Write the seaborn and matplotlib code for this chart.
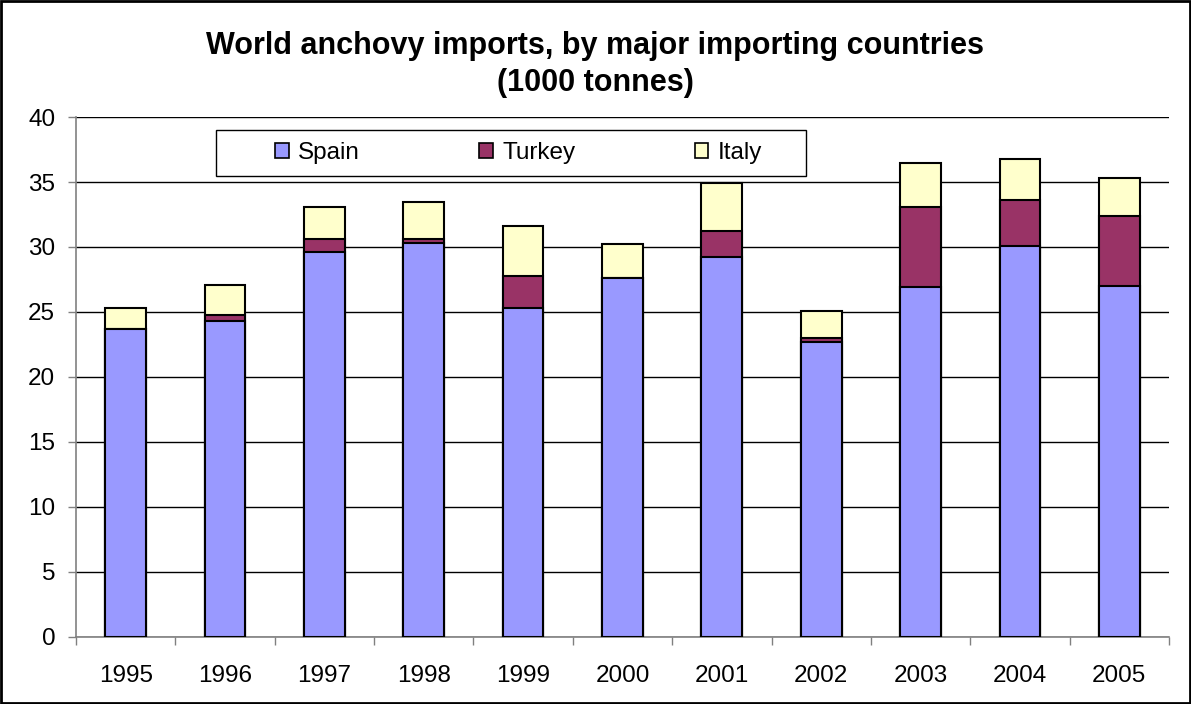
import numpy as np
import pandas as pd
import seaborn as sns
import matplotlib.pyplot as plt
from matplotlib.patches import Rectangle, Patch
from matplotlib.ticker import MultipleLocator, FixedLocator

years = ["1995", "1996", "1997", "1998", "1999", "2000", "2001", "2002", "2003", "2004", "2005"]
spain = [23.7, 24.3, 29.6, 30.3, 25.3, 27.65, 29.2, 22.7, 26.9, 30.05, 27.0]
turkey = [0.0, 0.5, 1.05, 0.3, 2.5, 0.0, 2.05, 0.3, 6.15, 3.55, 5.4]
italy = [1.6, 2.3, 2.45, 2.9, 3.8, 2.55, 3.65, 2.1, 3.45, 3.2, 2.9]

colors = {"Spain": "#9999FF", "Turkey": "#993366", "Italy": "#FFFFCC"}

sns.set_theme(style="white")
plt.rcParams['font.family'] = ['Liberation Sans', 'DejaVu Sans']
plt.rcParams['text.color'] = 'black'

df = pd.DataFrame({"year": years, "Spain": spain, "Turkey": turkey, "Italy": italy})
df["top_turkey"] = df["Spain"] + df["Turkey"]
df["top_italy"] = df["top_turkey"] + df["Italy"]

fig = plt.figure(figsize=(11.91, 7.04), dpi=100)
ax = fig.add_axes([0.0638, 0.0952, 0.9177, 0.7386])

# stacked bars drawn back to front
for col, name in [("top_italy", "Italy"), ("top_turkey", "Turkey"), ("Spain", "Spain")]:
    sns.barplot(data=df, x="year", y=col, color=colors[name], saturation=1,
                width=0.41, edgecolor="black", linewidth=1.5, ax=ax, zorder=3)

ax.set_ylim(0, 40)
ax.set_xlim(-0.5, len(years) - 0.5)
ax.yaxis.set_major_locator(MultipleLocator(5))
ax.yaxis.grid(True, color="black", linewidth=1)
ax.set_axisbelow(True)
ax.set_xlabel("")
ax.set_ylabel("")

ax.xaxis.set_minor_locator(FixedLocator(np.arange(-0.5, len(years), 1.0)))
ax.tick_params(axis="x", which="major", length=0, pad=20, labelsize=17.5, labelcolor="black")
ax.tick_params(axis="x", which="minor", bottom=True, length=5.5, width=1, color="#808080", direction="out")
ax.tick_params(axis="y", left=True, length=6, width=1, color="#808080", direction="out",
               labelsize=17.5, pad=9, labelcolor="black")

for s in ["top", "right"]:
    ax.spines[s].set_visible(False)
for s in ["left", "bottom"]:
    ax.spines[s].set_color("#808080")
    ax.spines[s].set_linewidth(1.2)

# legend box
ax.add_patch(Rectangle((0.128, 0.8865), 0.54, 0.0885, transform=ax.transAxes,
                       facecolor="white", edgecolor="black", linewidth=1, zorder=4))
handles = [Patch(facecolor=colors[n], edgecolor="black", linewidth=1.2) for n in ["Spain", "Turkey", "Italy"]]
leg = ax.legend(handles, ["Spain", "Turkey", "Italy"], ncol=3, loc="center",
                bbox_to_anchor=(0.405, 0.931), fontsize=17.5, frameon=False,
                borderaxespad=0, columnspacing=4.9, labelcolor="black",
                handlelength=0.55, handleheight=0.55, handletextpad=0.4)
leg.set_zorder(5)

fig.text(0.5, 0.9230, "World anchovy imports, by major importing countries",
         ha="center", va="baseline", fontsize=22, fontweight="bold", color="black")
fig.text(0.5, 0.8705, "(1000 tonnes)",
         ha="center", va="baseline", fontsize=22, fontweight="bold", color="black")

fig.patches.append(Rectangle((0.001, 0.001), 0.998, 0.997, transform=fig.transFigure,
                             fill=False, edgecolor="black", linewidth=2))

fig.savefig("out.png", dpi=100)
